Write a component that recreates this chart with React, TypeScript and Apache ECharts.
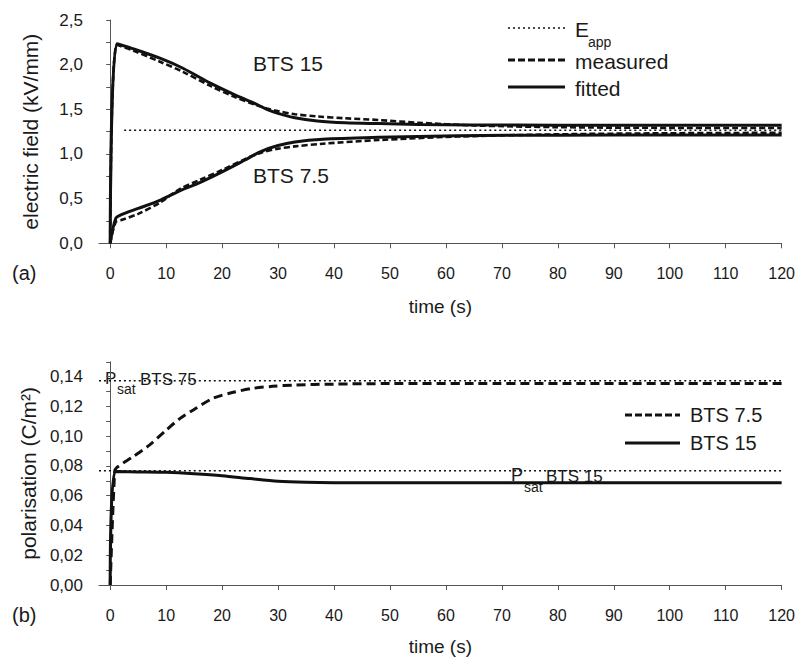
import { useEffect, useRef } from 'react';
import * as echarts from 'echarts';

const FONT = '"Liberation Sans", Arial, Helvetica, sans-serif';
const INK = '#111';
const AXIS = '#555';
const TXT = '#1a1a1a';

// ---- tick values / labels ----
const xTickValues = [0, 10, 20, 30, 40, 50, 60, 70, 80, 90, 100, 110, 120];
const yTickValuesA = [0, 0.25, 0.5, 0.75, 1, 1.25, 1.5, 1.75, 2, 2.25, 2.5];
const yLabelValuesA = [0, 0.5, 1, 1.5, 2, 2.5];
const yTickValuesB = [0, 0.01, 0.02, 0.03, 0.04, 0.05, 0.06, 0.07, 0.08, 0.09, 0.1, 0.11, 0.12, 0.13, 0.14, 0.15];
const yLabelValuesB = [0, 0.02, 0.04, 0.06, 0.08, 0.1, 0.12, 0.14];

// ---- panel (a): electric field ----
const timeA15 = [0, 1.2, 4, 9, 13, 18, 22, 26, 28, 30, 33, 37, 42, 48, 55, 65, 80, 100, 120];
const bts15Fitted = [0, 2.235, 2.18, 2.07, 1.96, 1.79, 1.67, 1.56, 1.5, 1.455, 1.405, 1.37, 1.35, 1.34, 1.33, 1.325, 1.323, 1.322, 1.322];
const bts15Measured = [0, 2.22, 2.16, 2.03, 1.92, 1.76, 1.645, 1.55, 1.51, 1.48, 1.445, 1.42, 1.4, 1.38, 1.35, 1.32, 1.3, 1.292, 1.29];

const timeA75 = [0, 1, 2, 5, 9, 12.5, 16, 20, 24, 27, 30, 33, 38, 48, 62, 80, 100, 120];
const bts75Fitted = [0, 0.28, 0.32, 0.39, 0.484, 0.59, 0.68, 0.8, 0.93, 1.03, 1.095, 1.135, 1.165, 1.186, 1.205, 1.21, 1.212, 1.212];
const bts75Measured = [0, 0.24, 0.26, 0.33, 0.46, 0.61, 0.71, 0.82, 0.94, 1.015, 1.06, 1.085, 1.115, 1.156, 1.195, 1.22, 1.232, 1.237];

const eAppTime = [2.5, 120];
const eAppValue = [1.265, 1.265];

// ---- panel (b): polarisation ----
const timeB75 = [0, 0.8, 1.2, 4, 7, 10, 12.5, 15, 18.4, 22, 25.6, 29, 33, 40, 50, 65, 120];
const polBts75 = [0, 0.0762, 0.079, 0.086, 0.094, 0.104, 0.112, 0.118, 0.1255, 0.1295, 0.1322, 0.1335, 0.1344, 0.135, 0.1354, 0.1355, 0.1355];
const timeB15 = [0, 0.9, 5, 10, 15, 20, 25, 30, 35, 40, 50, 120];
const polBts15 = [0, 0.0762, 0.076, 0.0757, 0.0748, 0.0735, 0.0715, 0.0697, 0.069, 0.0688, 0.0688, 0.0688];

const psatTime = [-2, 120];
const psat75 = [0.1373, 0.1373];
const psat15 = [0.0768, 0.0768];

const pairs = (t: number[], v: number[]) => t.map((x, i) => [x, v[i]]);

const xAxisCommon = (gridIndex: number, nameGap: number) => ({
  type: 'value',
  gridIndex,
  min: -2,
  max: 120,
  name: 'time (s)',
  nameLocation: 'middle',
  nameGap,
  nameTextStyle: { fontFamily: FONT, fontSize: 19, color: TXT },
  axisLine: { show: true, onZero: false, lineStyle: { color: AXIS, width: 1 } },
  axisTick: { show: true, inside: false, length: 5, lineStyle: { color: AXIS }, customValues: xTickValues },
  axisLabel: {
    customValues: xTickValues,
    margin: 22,
    fontFamily: FONT,
    fontSize: 16,
    color: TXT,
    formatter: (v: number) => String(v),
  },
  splitLine: { show: false },
});

export default function App() {
  const ref = useRef<HTMLDivElement>(null);

  useEffect(() => {
    if (!ref.current) return;
    const chart = echarts.init(ref.current, undefined, { renderer: 'svg' });

    const dotted = { color: INK, width: 1.4, type: [2, 3] as any };
    const dashedA = { color: INK, width: 2.6, type: [6, 3] as any };
    const dashedB = { color: INK, width: 3, type: [9, 5] as any };
    const solid = { color: INK, width: 3 };

    const lineSeries = (name: string, data: number[][], lineStyle: any, gi: number, z: number) => ({
      name,
      type: 'line',
      xAxisIndex: gi,
      yAxisIndex: gi,
      data,
      showSymbol: false,
      symbol: 'none',
      smooth: 0.3,
      lineStyle,
      z,
      silent: true,
    });

    const text = (t: string, x: number, y: number, size: number) => ({
      type: 'text',
      x,
      y,
      silent: true,
      style: { text: t, fontFamily: FONT, fontSize: size, fill: TXT, verticalAlign: 'middle', align: 'left' },
    });
    const sample = (x1: number, x2: number, y: number, lineWidth: number, lineDash: number[] | null) => ({
      type: 'line',
      silent: true,
      shape: { x1, y1: y, x2, y2: y },
      style: { stroke: INK, lineWidth, lineDash: lineDash || undefined },
    });

    chart.setOption({
      animation: false,
      backgroundColor: '#ffffff',
      grid: [
        { left: 99, width: 683, top: 20, height: 223.3 },
        { left: 99, width: 683, top: 361.8, height: 223.2 },
      ],
      xAxis: [xAxisCommon(0, 54), xAxisCommon(1, 52)],
      yAxis: [
        {
          type: 'value',
          gridIndex: 0,
          min: 0,
          max: 2.5,
          name: 'electric field (kV/mm)',
          nameLocation: 'middle',
          nameGap: 58,
          nameTextStyle: { fontFamily: FONT, fontSize: 21, color: TXT },
          axisLine: { show: true, lineStyle: { color: AXIS, width: 1 } },
          axisTick: { show: true, length: 4, lineStyle: { color: AXIS }, customValues: yTickValuesA },
          axisLabel: {
            customValues: yLabelValuesA,
            margin: 16,
            fontFamily: FONT,
            fontSize: 17,
            color: TXT,
            formatter: (v: number) => v.toFixed(1).replace('.', ','),
          },
          splitLine: { show: false },
        },
        {
          type: 'value',
          gridIndex: 1,
          min: 0,
          max: 0.15,
          name: 'polarisation (C/m²)',
          nameLocation: 'middle',
          nameGap: 58,
          nameTextStyle: { fontFamily: FONT, fontSize: 21, color: TXT },
          axisLine: { show: true, lineStyle: { color: AXIS, width: 1 } },
          axisTick: { show: true, length: 4, lineStyle: { color: AXIS }, customValues: yTickValuesB },
          axisLabel: {
            customValues: yLabelValuesB,
            margin: 16,
            fontFamily: FONT,
            fontSize: 17,
            color: TXT,
            formatter: (v: number) => v.toFixed(2).replace('.', ','),
          },
          splitLine: { show: false },
        },
      ],
      series: [
        lineSeries('E_app', pairs(eAppTime, eAppValue), dotted, 0, 1),
        lineSeries('BTS 15 measured', pairs(timeA15, bts15Measured), dashedA, 0, 2),
        lineSeries('BTS 7.5 measured', pairs(timeA75, bts75Measured), dashedA, 0, 2),
        lineSeries('BTS 15 fitted', pairs(timeA15, bts15Fitted), solid, 0, 3),
        lineSeries('BTS 7.5 fitted', pairs(timeA75, bts75Fitted), solid, 0, 3),
        lineSeries('Psat BTS 7.5', pairs(psatTime, psat75), dotted, 1, 1),
        lineSeries('Psat BTS 15', pairs(psatTime, psat15), dotted, 1, 1),
        lineSeries('BTS 7.5', pairs(timeB75, polBts75), dashedB, 1, 2),
        lineSeries('BTS 15', pairs(timeB15, polBts15), solid, 1, 3),
      ],
      graphic: [
        // panel (a) annotations
        text('BTS 15', 253, 63, 21),
        text('BTS 7.5', 253, 175, 21),
        // panel (a) legend
        sample(508, 565, 28, 1.4, [2, 3]),
        text('E', 575, 29, 21),
        text('app', 588, 42, 14),
        sample(508, 565, 60, 3, [7, 3]),
        text('measured', 575, 61, 21),
        sample(508, 565, 87, 3, null),
        text('fitted', 575, 88, 21),
        text('(a)', 12, 273, 20),
        // panel (b) annotations
        text('P', 105, 378, 17),
        text('sat', 117, 389, 14),
        text('BTS 75', 140, 379, 17),
        text('P', 511, 475, 18),
        text('sat', 524, 487, 14),
        text('BTS 15', 546, 476, 17),
        // panel (b) legend
        sample(625, 680, 415, 3, [7, 3]),
        text('BTS 7.5', 690, 415, 20),
        sample(625, 680, 443, 3, null),
        text('BTS 15', 690, 443, 20),
        text('(b)', 12, 615, 20),
      ],
    });

    return () => chart.dispose();
  }, []);

  return (
    <div
      ref={ref}
      style={{ position: 'fixed', left: 0, top: 0, width: 798, height: 658, background: '#fff' }}
    />
  );
}
